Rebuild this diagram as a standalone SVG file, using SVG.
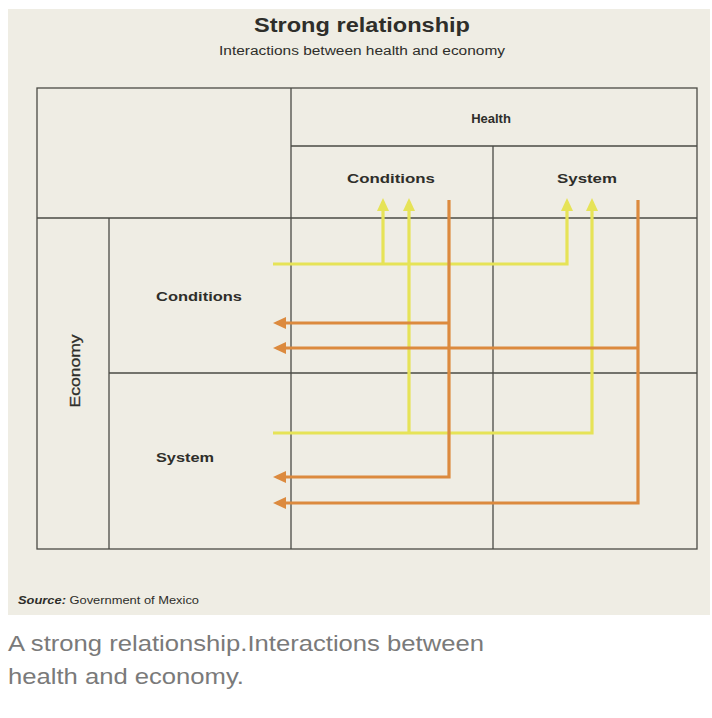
<svg xmlns="http://www.w3.org/2000/svg" width="712" height="718" viewBox="0 0 712 718">
<defs>
<style>
.t{font-family:"Liberation Sans",Arial,sans-serif;fill:#2e2e2a}
.b{font-weight:bold}
.grid{stroke:#4a4a44;stroke-width:1.3;fill:none}
.y{stroke:#e6e357;stroke-width:3.2;fill:none}
.o{stroke:#dc8a3e;stroke-width:3.2;fill:none}
</style>
<marker id="ay" markerUnits="userSpaceOnUse" markerWidth="16" markerHeight="14" refX="9" refY="6" orient="auto">
<path d="M0,0 L13,6 L0,12 z" fill="#e6e357"/>
</marker>
<marker id="ao" markerUnits="userSpaceOnUse" markerWidth="16" markerHeight="14" refX="9" refY="6" orient="auto">
<path d="M0,0 L13,6 L0,12 z" fill="#dc8a3e"/>
</marker>
</defs>
<rect width="712" height="718" fill="#ffffff"/>
<rect x="8" y="9" width="702" height="606" fill="#efede4"/>
<g id="title">
<text class="t b" x="362" y="32" font-size="20" text-anchor="middle" textLength="216" lengthAdjust="spacingAndGlyphs">Strong relationship</text>
<text class="t" x="362" y="55" font-size="12" text-anchor="middle" textLength="286" lengthAdjust="spacingAndGlyphs">Interactions between health and economy</text>
</g>
<g id="grid" class="grid">
<rect x="37" y="88" width="660" height="461"/>
<line x1="291" y1="88" x2="291" y2="549"/>
<line x1="291" y1="146" x2="697" y2="146"/>
<line x1="493" y1="146" x2="493" y2="549"/>
<line x1="37" y1="218" x2="697" y2="218"/>
<line x1="109" y1="218" x2="109" y2="549"/>
<line x1="109" y1="373" x2="697" y2="373"/>
</g>
<g id="health-header"><text class="t b" x="491" y="123" font-size="13" text-anchor="middle">Health</text></g>
<g id="health-conditions"><text class="t b" x="391" y="183" font-size="13.5" text-anchor="middle" textLength="88" lengthAdjust="spacingAndGlyphs">Conditions</text></g>
<g id="health-system"><text class="t b" x="587" y="183" font-size="13.5" text-anchor="middle" textLength="60" lengthAdjust="spacingAndGlyphs">System</text></g>
<g id="economy-header"><text class="t" x="0" y="0" font-size="14" text-anchor="middle" transform="translate(80,371) rotate(-90)" textLength="73" lengthAdjust="spacingAndGlyphs" stroke="#2e2e2a" stroke-width="0.3">Economy</text></g>
<g id="economy-conditions"><text class="t b" x="156" y="301" font-size="13.5" textLength="86" lengthAdjust="spacingAndGlyphs">Conditions</text></g>
<g id="economy-system"><text class="t b" x="156" y="462" font-size="13.5" textLength="58" lengthAdjust="spacingAndGlyphs">System</text></g>
<g id="connectors">
<path class="y" d="M273,264 H567 V202" marker-end="url(#ay)"/>
<path class="y" d="M383,264 V202" marker-end="url(#ay)"/>
<path class="y" d="M273,433 H592 V202" marker-end="url(#ay)"/>
<path class="y" d="M409,433 V202" marker-end="url(#ay)"/>
<path class="o" d="M449,200 V477 H277" marker-end="url(#ao)"/>
<path class="o" d="M449,323 H277" marker-end="url(#ao)"/>
<path class="o" d="M638,200 V503 H277" marker-end="url(#ao)"/>
<path class="o" d="M638,348 H277" marker-end="url(#ao)"/>
</g>
<g id="source">
<text class="t" x="18" y="604" font-size="10" textLength="181" lengthAdjust="spacingAndGlyphs"><tspan font-weight="bold" font-style="italic">Source:</tspan> Government of Mexico</text>
</g>
<g id="caption">
<text x="8" y="651" font-family="'Liberation Sans',Arial,sans-serif" font-size="22" fill="#7a7a7a" textLength="476" lengthAdjust="spacingAndGlyphs">A strong relationship.Interactions between</text>
<text x="8" y="684" font-family="'Liberation Sans',Arial,sans-serif" font-size="22" fill="#7a7a7a" textLength="236" lengthAdjust="spacingAndGlyphs">health and economy.</text>
</g>
</svg>
